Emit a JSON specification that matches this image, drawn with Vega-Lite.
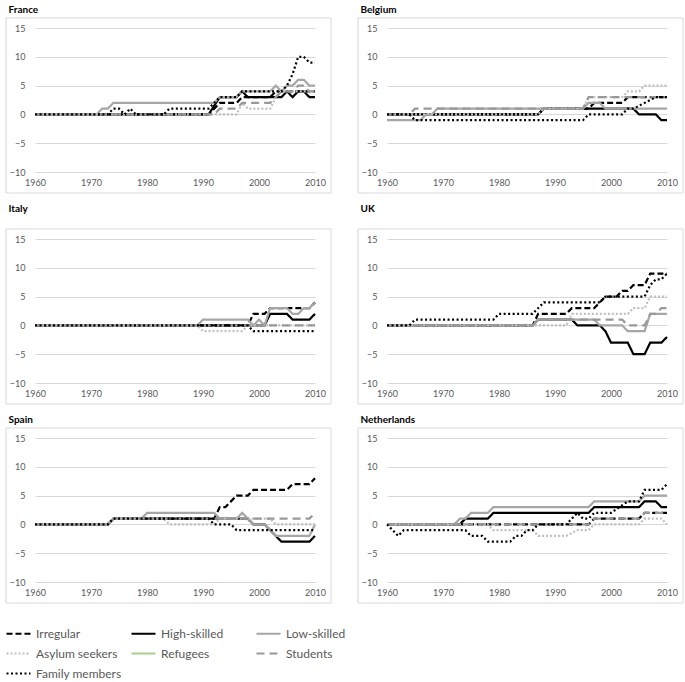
{
"$schema": "https://vega.github.io/schema/vega-lite/v6.json",
"padding": 5,
"background": "white",
"config": {
 "font": "Lato",
 "view": {"stroke": null},
 "axis": {"domain": false, "ticks": false, "labelColor": "#595959", "labelFontSize": 9, "labelFont": "Lato", "gridColor": "#d9d9d9", "gridWidth": 1, "labelOverlap": false},
 "axisX": {"grid": false, "labelPadding": 6, "labelFlush": false},
 "axisY": {"grid": true, "labelPadding": 10},
 "title": {"anchor": "start", "frame": "bounds", "fontSize": 10, "fontWeight": "bold", "font": "Lato", "color": "#000000", "dx": 3},
 "legend": {"orient": "none", "legendX": -30, "legendY": 592, "direction": "horizontal", "columns": 3, "gridAlign": "all", "symbolType": "stroke", "symbolSize": 576, "labelFontSize": 12, "labelColor": "#595959", "labelFont": "Lato", "columnPadding": 5, "rowPadding": -2, "labelOffset": 4}
},
"datasets": {
"fr": [
{"series":"Irregular","year":1960,"value":0},{"series":"Irregular","year":1991,"value":0},{"series":"Irregular","year":1992,"value":1},{"series":"Irregular","year":1993,"value":2},{"series":"Irregular","year":1996,"value":2},{"series":"Irregular","year":1997,"value":3},{"series":"Irregular","year":2002,"value":3},{"series":"Irregular","year":2003,"value":4},{"series":"Irregular","year":2010,"value":4},
{"series":"High-skilled","year":1960,"value":0},{"series":"High-skilled","year":1991,"value":0},{"series":"High-skilled","year":1993,"value":3},{"series":"High-skilled","year":1996,"value":3},{"series":"High-skilled","year":1997,"value":4},{"series":"High-skilled","year":1998,"value":3},{"series":"High-skilled","year":2004,"value":3},{"series":"High-skilled","year":2005,"value":4},{"series":"High-skilled","year":2006,"value":3},{"series":"High-skilled","year":2007,"value":4},{"series":"High-skilled","year":2008,"value":4},{"series":"High-skilled","year":2009,"value":3},{"series":"High-skilled","year":2010,"value":3},
{"series":"Low-skilled","year":1960,"value":0},{"series":"Low-skilled","year":1971,"value":0},{"series":"Low-skilled","year":1972,"value":1},{"series":"Low-skilled","year":1973,"value":1},{"series":"Low-skilled","year":1974,"value":2},{"series":"Low-skilled","year":1992,"value":2},{"series":"Low-skilled","year":1993,"value":3},{"series":"Low-skilled","year":1996,"value":3},{"series":"Low-skilled","year":1997,"value":4},{"series":"Low-skilled","year":2002,"value":4},{"series":"Low-skilled","year":2003,"value":5},{"series":"Low-skilled","year":2004,"value":4},{"series":"Low-skilled","year":2005,"value":5},{"series":"Low-skilled","year":2006,"value":5},{"series":"Low-skilled","year":2007,"value":6},{"series":"Low-skilled","year":2008,"value":6},{"series":"Low-skilled","year":2009,"value":5},{"series":"Low-skilled","year":2010,"value":5},
{"series":"Asylum seekers","year":1960,"value":0},{"series":"Asylum seekers","year":1996,"value":0},{"series":"Asylum seekers","year":1997,"value":2},{"series":"Asylum seekers","year":1998,"value":1},{"series":"Asylum seekers","year":2002,"value":1},{"series":"Asylum seekers","year":2003,"value":3},{"series":"Asylum seekers","year":2004,"value":4},{"series":"Asylum seekers","year":2010,"value":4},
{"series":"Students","year":1960,"value":0},{"series":"Students","year":1992,"value":0},{"series":"Students","year":1993,"value":1},{"series":"Students","year":1996,"value":1},{"series":"Students","year":1997,"value":2},{"series":"Students","year":2002,"value":2},{"series":"Students","year":2003,"value":3},{"series":"Students","year":2004,"value":4},{"series":"Students","year":2006,"value":4},{"series":"Students","year":2007,"value":5},{"series":"Students","year":2008,"value":5},{"series":"Students","year":2009,"value":4},{"series":"Students","year":2010,"value":4},
{"series":"Family members","year":1960,"value":0},{"series":"Family members","year":1973,"value":0},{"series":"Family members","year":1974,"value":1},{"series":"Family members","year":1975,"value":1},{"series":"Family members","year":1976,"value":0},{"series":"Family members","year":1977,"value":1},{"series":"Family members","year":1978,"value":0},{"series":"Family members","year":1983,"value":0},{"series":"Family members","year":1984,"value":1},{"series":"Family members","year":1991,"value":1},{"series":"Family members","year":1993,"value":3},{"series":"Family members","year":1996,"value":3},{"series":"Family members","year":1997,"value":4},{"series":"Family members","year":2004,"value":4},{"series":"Family members","year":2005,"value":5},{"series":"Family members","year":2006,"value":7},{"series":"Family members","year":2007,"value":10},{"series":"Family members","year":2008,"value":10},{"series":"Family members","year":2009,"value":9},{"series":"Family members","year":2010,"value":9}
],
"be": [
{"series":"Irregular","year":1960,"value":0},{"series":"Irregular","year":1987,"value":0},{"series":"Irregular","year":1988,"value":1},{"series":"Irregular","year":1996,"value":1},{"series":"Irregular","year":1997,"value":2},{"series":"Irregular","year":2002,"value":2},{"series":"Irregular","year":2003,"value":3},{"series":"Irregular","year":2010,"value":3},
{"series":"High-skilled","year":1960,"value":0},{"series":"High-skilled","year":1987,"value":0},{"series":"High-skilled","year":1988,"value":1},{"series":"High-skilled","year":2004,"value":1},{"series":"High-skilled","year":2005,"value":0},{"series":"High-skilled","year":2008,"value":0},{"series":"High-skilled","year":2009,"value":-1},{"series":"High-skilled","year":2010,"value":-1},
{"series":"Low-skilled","year":1960,"value":-1},{"series":"Low-skilled","year":1966,"value":-1},{"series":"Low-skilled","year":1967,"value":0},{"series":"Low-skilled","year":1968,"value":0},{"series":"Low-skilled","year":1969,"value":1},{"series":"Low-skilled","year":1995,"value":1},{"series":"Low-skilled","year":1996,"value":2},{"series":"Low-skilled","year":1998,"value":2},{"series":"Low-skilled","year":1999,"value":1},{"series":"Low-skilled","year":2010,"value":1},
{"series":"Asylum seekers","year":1960,"value":0},{"series":"Asylum seekers","year":1987,"value":0},{"series":"Asylum seekers","year":1988,"value":1},{"series":"Asylum seekers","year":1995,"value":1},{"series":"Asylum seekers","year":1996,"value":3},{"series":"Asylum seekers","year":2002,"value":3},{"series":"Asylum seekers","year":2003,"value":4},{"series":"Asylum seekers","year":2005,"value":4},{"series":"Asylum seekers","year":2006,"value":5},{"series":"Asylum seekers","year":2010,"value":5},
{"series":"Students","year":1960,"value":0},{"series":"Students","year":1964,"value":0},{"series":"Students","year":1965,"value":1},{"series":"Students","year":1995,"value":1},{"series":"Students","year":1996,"value":3},{"series":"Students","year":2010,"value":3},
{"series":"Family members","year":1960,"value":0},{"series":"Family members","year":1964,"value":0},{"series":"Family members","year":1965,"value":-1},{"series":"Family members","year":1995,"value":-1},{"series":"Family members","year":1996,"value":0},{"series":"Family members","year":2002,"value":0},{"series":"Family members","year":2003,"value":1},{"series":"Family members","year":2004,"value":1},{"series":"Family members","year":2006,"value":2},{"series":"Family members","year":2008,"value":3},{"series":"Family members","year":2010,"value":3}
],
"it": [
{"series":"Irregular","year":1960,"value":0},{"series":"Irregular","year":1998,"value":0},{"series":"Irregular","year":1999,"value":2},{"series":"Irregular","year":2001,"value":2},{"series":"Irregular","year":2002,"value":3},{"series":"Irregular","year":2009,"value":3},{"series":"Irregular","year":2010,"value":4},
{"series":"High-skilled","year":1960,"value":0},{"series":"High-skilled","year":2001,"value":0},{"series":"High-skilled","year":2002,"value":2},{"series":"High-skilled","year":2005,"value":2},{"series":"High-skilled","year":2006,"value":1},{"series":"High-skilled","year":2009,"value":1},{"series":"High-skilled","year":2010,"value":2},
{"series":"Low-skilled","year":1960,"value":0},{"series":"Low-skilled","year":1989,"value":0},{"series":"Low-skilled","year":1990,"value":1},{"series":"Low-skilled","year":1998,"value":1},{"series":"Low-skilled","year":1999,"value":0},{"series":"Low-skilled","year":2000,"value":1},{"series":"Low-skilled","year":2001,"value":0},{"series":"Low-skilled","year":2002,"value":3},{"series":"Low-skilled","year":2005,"value":3},{"series":"Low-skilled","year":2006,"value":2},{"series":"Low-skilled","year":2007,"value":2},{"series":"Low-skilled","year":2008,"value":3},{"series":"Low-skilled","year":2009,"value":3},{"series":"Low-skilled","year":2010,"value":4},
{"series":"Asylum seekers","year":1960,"value":0},{"series":"Asylum seekers","year":1989,"value":0},{"series":"Asylum seekers","year":1990,"value":-1},{"series":"Asylum seekers","year":1997,"value":-1},{"series":"Asylum seekers","year":1998,"value":0},{"series":"Asylum seekers","year":2010,"value":0},
{"series":"Students","year":1960,"value":0},{"series":"Students","year":2010,"value":0},
{"series":"Family members","year":1960,"value":0},{"series":"Family members","year":1998,"value":0},{"series":"Family members","year":1999,"value":-1},{"series":"Family members","year":2010,"value":-1}
],
"uk": [
{"series":"Irregular","year":1960,"value":0},{"series":"Irregular","year":1986,"value":0},{"series":"Irregular","year":1987,"value":2},{"series":"Irregular","year":1992,"value":2},{"series":"Irregular","year":1993,"value":3},{"series":"Irregular","year":1997,"value":3},{"series":"Irregular","year":1999,"value":5},{"series":"Irregular","year":2001,"value":5},{"series":"Irregular","year":2002,"value":6},{"series":"Irregular","year":2003,"value":6},{"series":"Irregular","year":2004,"value":7},{"series":"Irregular","year":2006,"value":7},{"series":"Irregular","year":2007,"value":9},{"series":"Irregular","year":2010,"value":9},
{"series":"High-skilled","year":1960,"value":0},{"series":"High-skilled","year":1986,"value":0},{"series":"High-skilled","year":1987,"value":1},{"series":"High-skilled","year":1993,"value":1},{"series":"High-skilled","year":1994,"value":0},{"series":"High-skilled","year":1998,"value":0},{"series":"High-skilled","year":1999,"value":-1},{"series":"High-skilled","year":2000,"value":-3},{"series":"High-skilled","year":2003,"value":-3},{"series":"High-skilled","year":2004,"value":-5},{"series":"High-skilled","year":2006,"value":-5},{"series":"High-skilled","year":2007,"value":-3},{"series":"High-skilled","year":2009,"value":-3},{"series":"High-skilled","year":2010,"value":-2},
{"series":"Low-skilled","year":1960,"value":0},{"series":"Low-skilled","year":1986,"value":0},{"series":"Low-skilled","year":1987,"value":1},{"series":"Low-skilled","year":1997,"value":1},{"series":"Low-skilled","year":1998,"value":0},{"series":"Low-skilled","year":2002,"value":0},{"series":"Low-skilled","year":2003,"value":-1},{"series":"Low-skilled","year":2006,"value":-1},{"series":"Low-skilled","year":2007,"value":2},{"series":"Low-skilled","year":2010,"value":2},
{"series":"Asylum seekers","year":1960,"value":0},{"series":"Asylum seekers","year":1992,"value":0},{"series":"Asylum seekers","year":1993,"value":2},{"series":"Asylum seekers","year":2003,"value":2},{"series":"Asylum seekers","year":2004,"value":3},{"series":"Asylum seekers","year":2006,"value":3},{"series":"Asylum seekers","year":2007,"value":5},{"series":"Asylum seekers","year":2010,"value":5},
{"series":"Students","year":1960,"value":0},{"series":"Students","year":1986,"value":0},{"series":"Students","year":1987,"value":1},{"series":"Students","year":2002,"value":1},{"series":"Students","year":2003,"value":0},{"series":"Students","year":2006,"value":0},{"series":"Students","year":2007,"value":2},{"series":"Students","year":2008,"value":2},{"series":"Students","year":2009,"value":3},{"series":"Students","year":2010,"value":3},
{"series":"Family members","year":1960,"value":0},{"series":"Family members","year":1964,"value":0},{"series":"Family members","year":1965,"value":1},{"series":"Family members","year":1979,"value":1},{"series":"Family members","year":1980,"value":2},{"series":"Family members","year":1986,"value":2},{"series":"Family members","year":1988,"value":4},{"series":"Family members","year":1998,"value":4},{"series":"Family members","year":1999,"value":5},{"series":"Family members","year":2006,"value":5},{"series":"Family members","year":2007,"value":7},{"series":"Family members","year":2008,"value":8},{"series":"Family members","year":2009,"value":8},{"series":"Family members","year":2010,"value":9}
],
"es": [
{"series":"Irregular","year":1960,"value":0},{"series":"Irregular","year":1973,"value":0},{"series":"Irregular","year":1974,"value":1},{"series":"Irregular","year":1992,"value":1},{"series":"Irregular","year":1993,"value":3},{"series":"Irregular","year":1994,"value":3},{"series":"Irregular","year":1996,"value":5},{"series":"Irregular","year":1998,"value":5},{"series":"Irregular","year":1999,"value":6},{"series":"Irregular","year":2005,"value":6},{"series":"Irregular","year":2006,"value":7},{"series":"Irregular","year":2009,"value":7},{"series":"Irregular","year":2010,"value":8},
{"series":"High-skilled","year":1960,"value":0},{"series":"High-skilled","year":1973,"value":0},{"series":"High-skilled","year":1974,"value":1},{"series":"High-skilled","year":1998,"value":1},{"series":"High-skilled","year":1999,"value":0},{"series":"High-skilled","year":2001,"value":0},{"series":"High-skilled","year":2004,"value":-3},{"series":"High-skilled","year":2009,"value":-3},{"series":"High-skilled","year":2010,"value":-2},
{"series":"Low-skilled","year":1960,"value":0},{"series":"Low-skilled","year":1973,"value":0},{"series":"Low-skilled","year":1974,"value":1},{"series":"Low-skilled","year":1979,"value":1},{"series":"Low-skilled","year":1980,"value":2},{"series":"Low-skilled","year":1992,"value":2},{"series":"Low-skilled","year":1993,"value":1},{"series":"Low-skilled","year":1996,"value":1},{"series":"Low-skilled","year":1997,"value":2},{"series":"Low-skilled","year":1998,"value":1},{"series":"Low-skilled","year":1999,"value":0},{"series":"Low-skilled","year":2001,"value":0},{"series":"Low-skilled","year":2003,"value":-2},{"series":"Low-skilled","year":2009,"value":-2},{"series":"Low-skilled","year":2010,"value":0},
{"series":"Asylum seekers","year":1960,"value":0},{"series":"Asylum seekers","year":1973,"value":0},{"series":"Asylum seekers","year":1974,"value":1},{"series":"Asylum seekers","year":1983,"value":1},{"series":"Asylum seekers","year":1984,"value":0},{"series":"Asylum seekers","year":1992,"value":0},{"series":"Asylum seekers","year":1993,"value":1},{"series":"Asylum seekers","year":2002,"value":1},{"series":"Asylum seekers","year":2003,"value":0},{"series":"Asylum seekers","year":2010,"value":0},
{"series":"Students","year":1960,"value":0},{"series":"Students","year":1973,"value":0},{"series":"Students","year":1974,"value":1},{"series":"Students","year":2009,"value":1},{"series":"Students","year":2010,"value":2},
{"series":"Family members","year":1960,"value":0},{"series":"Family members","year":1973,"value":0},{"series":"Family members","year":1974,"value":1},{"series":"Family members","year":1991,"value":1},{"series":"Family members","year":1992,"value":0},{"series":"Family members","year":1995,"value":0},{"series":"Family members","year":1996,"value":-1},{"series":"Family members","year":2010,"value":-1}
],
"nl": [
{"series":"Irregular","year":1960,"value":0},{"series":"Irregular","year":1996,"value":0},{"series":"Irregular","year":1997,"value":1},{"series":"Irregular","year":2005,"value":1},{"series":"Irregular","year":2006,"value":2},{"series":"Irregular","year":2010,"value":2},
{"series":"High-skilled","year":1960,"value":0},{"series":"High-skilled","year":1973,"value":0},{"series":"High-skilled","year":1974,"value":1},{"series":"High-skilled","year":1978,"value":1},{"series":"High-skilled","year":1979,"value":2},{"series":"High-skilled","year":1996,"value":2},{"series":"High-skilled","year":1997,"value":3},{"series":"High-skilled","year":2005,"value":3},{"series":"High-skilled","year":2006,"value":4},{"series":"High-skilled","year":2008,"value":4},{"series":"High-skilled","year":2009,"value":3},{"series":"High-skilled","year":2010,"value":3},
{"series":"Low-skilled","year":1960,"value":0},{"series":"Low-skilled","year":1972,"value":0},{"series":"Low-skilled","year":1973,"value":1},{"series":"Low-skilled","year":1974,"value":1},{"series":"Low-skilled","year":1975,"value":2},{"series":"Low-skilled","year":1978,"value":2},{"series":"Low-skilled","year":1979,"value":3},{"series":"Low-skilled","year":1996,"value":3},{"series":"Low-skilled","year":1997,"value":4},{"series":"Low-skilled","year":2005,"value":4},{"series":"Low-skilled","year":2006,"value":5},{"series":"Low-skilled","year":2010,"value":5},
{"series":"Asylum seekers","year":1960,"value":0},{"series":"Asylum seekers","year":1978,"value":0},{"series":"Asylum seekers","year":1979,"value":-1},{"series":"Asylum seekers","year":1986,"value":-1},{"series":"Asylum seekers","year":1987,"value":-2},{"series":"Asylum seekers","year":1992,"value":-2},{"series":"Asylum seekers","year":1994,"value":-1},{"series":"Asylum seekers","year":1996,"value":-1},{"series":"Asylum seekers","year":1997,"value":0},{"series":"Asylum seekers","year":2005,"value":0},{"series":"Asylum seekers","year":2006,"value":1},{"series":"Asylum seekers","year":2009,"value":1},{"series":"Asylum seekers","year":2010,"value":0},
{"series":"Students","year":1960,"value":0},{"series":"Students","year":1996,"value":0},{"series":"Students","year":1997,"value":1},{"series":"Students","year":2005,"value":1},{"series":"Students","year":2006,"value":2},{"series":"Students","year":2010,"value":2},
{"series":"Family members","year":1960,"value":0},{"series":"Family members","year":1962,"value":-2},{"series":"Family members","year":1963,"value":-1},{"series":"Family members","year":1974,"value":-1},{"series":"Family members","year":1975,"value":-2},{"series":"Family members","year":1977,"value":-2},{"series":"Family members","year":1978,"value":-3},{"series":"Family members","year":1982,"value":-3},{"series":"Family members","year":1983,"value":-2},{"series":"Family members","year":1984,"value":-2},{"series":"Family members","year":1985,"value":-1},{"series":"Family members","year":1986,"value":-1},{"series":"Family members","year":1987,"value":0},{"series":"Family members","year":1992,"value":0},{"series":"Family members","year":1994,"value":2},{"series":"Family members","year":1995,"value":1},{"series":"Family members","year":1996,"value":1},{"series":"Family members","year":1997,"value":2},{"series":"Family members","year":2000,"value":2},{"series":"Family members","year":2003,"value":4},{"series":"Family members","year":2005,"value":4},{"series":"Family members","year":2006,"value":6},{"series":"Family members","year":2009,"value":6},{"series":"Family members","year":2010,"value":7}
]
},
"columns": 2,
"spacing": {"row": 10, "column": 25},
"concat": [
{"title": {"text": "France", "offset": 2}, "width": 280, "height": 144, "layer": [
 {"data": {"values": [{}]}, "mark": {"type": "rect", "filled": false, "color": "#d9d9d9", "strokeWidth": 1}, "encoding": {"x": {"datum": 1954.82, "type": "quantitative", "scale": {"domain": [1960, 2010], "nice": false}, "axis": {"values": [1960,1970,1980,1990,2000,2010], "format": "d", "title": null}}, "x2": {"datum": 2012.86}, "y": {"datum": -13.65, "type": "quantitative", "scale": {"domain": [-10, 15], "nice": false}, "axis": {"values": [-10,-5,0,5,10,15], "title": null, "grid": true}}, "y2": {"datum": 16.74}}},
 {"data": {"name": "fr"}, "mark": {"type": "line", "strokeCap": "butt"}, "encoding": {
  "x": {"field": "year", "type": "quantitative", "scale": {"domain": [1960, 2010], "nice": false}, "axis": {"values": [1960,1970,1980,1990,2000,2010], "format": "d", "title": null}},
  "y": {"field": "value", "type": "quantitative", "scale": {"domain": [-10, 15], "nice": false}, "axis": {"values": [-10,-5,0,5,10,15], "title": null, "grid": true}},
  "color": {"field": "series", "type": "nominal", "title": null, "scale": {"domain": ["Irregular","High-skilled","Low-skilled","Asylum seekers","Refugees","Students","Family members"], "range": ["#000000","#000000","#a6a6a6","#bfbfbf","#a9d18e","#999999","#000000"]}},
  "strokeDash": {"field": "series", "type": "nominal", "title": null, "scale": {"domain": ["Irregular","High-skilled","Low-skilled","Asylum seekers","Refugees","Students","Family members"], "range": [[6,3],[1,0],[1,0],[2,2],[1,0],[8,5],[2,2.5]]}},
  "strokeWidth": {"field": "series", "type": "ordinal", "title": null, "scale": {"domain": ["Irregular","High-skilled","Low-skilled","Asylum seekers","Refugees","Students","Family members"], "range": [2.2,2.2,2.2,1.5,1.8,2,1.8]}}
 }}
]},
{"title": {"text": "Belgium", "offset": 2}, "width": 280, "height": 144, "layer": [
 {"data": {"values": [{}]}, "mark": {"type": "rect", "filled": false, "color": "#d9d9d9", "strokeWidth": 1}, "encoding": {"x": {"datum": 1954.82, "type": "quantitative", "scale": {"domain": [1960, 2010], "nice": false}, "axis": {"values": [1960,1970,1980,1990,2000,2010], "format": "d", "title": null}}, "x2": {"datum": 2012.86}, "y": {"datum": -13.65, "type": "quantitative", "scale": {"domain": [-10, 15], "nice": false}, "axis": {"values": [-10,-5,0,5,10,15], "title": null, "grid": true}}, "y2": {"datum": 16.74}}},
 {"data": {"name": "be"}, "mark": {"type": "line", "strokeCap": "butt"}, "encoding": {
  "x": {"field": "year", "type": "quantitative", "scale": {"domain": [1960, 2010], "nice": false}, "axis": {"values": [1960,1970,1980,1990,2000,2010], "format": "d", "title": null}},
  "y": {"field": "value", "type": "quantitative", "scale": {"domain": [-10, 15], "nice": false}, "axis": {"values": [-10,-5,0,5,10,15], "title": null, "grid": true}},
  "color": {"field": "series", "type": "nominal", "title": null, "scale": {"domain": ["Irregular","High-skilled","Low-skilled","Asylum seekers","Refugees","Students","Family members"], "range": ["#000000","#000000","#a6a6a6","#bfbfbf","#a9d18e","#999999","#000000"]}},
  "strokeDash": {"field": "series", "type": "nominal", "title": null, "scale": {"domain": ["Irregular","High-skilled","Low-skilled","Asylum seekers","Refugees","Students","Family members"], "range": [[6,3],[1,0],[1,0],[2,2],[1,0],[8,5],[2,2.5]]}},
  "strokeWidth": {"field": "series", "type": "ordinal", "title": null, "scale": {"domain": ["Irregular","High-skilled","Low-skilled","Asylum seekers","Refugees","Students","Family members"], "range": [2.2,2.2,2.2,1.5,1.8,2,1.8]}}
 }}
]},
{"title": {"text": "Italy", "offset": 14}, "width": 280, "height": 144, "layer": [
 {"data": {"values": [{}]}, "mark": {"type": "rect", "filled": false, "color": "#d9d9d9", "strokeWidth": 1}, "encoding": {"x": {"datum": 1954.82, "type": "quantitative", "scale": {"domain": [1960, 2010], "nice": false}, "axis": {"values": [1960,1970,1980,1990,2000,2010], "format": "d", "title": null}}, "x2": {"datum": 2012.86}, "y": {"datum": -13.65, "type": "quantitative", "scale": {"domain": [-10, 15], "nice": false}, "axis": {"values": [-10,-5,0,5,10,15], "title": null, "grid": true}}, "y2": {"datum": 16.74}}},
 {"data": {"name": "it"}, "mark": {"type": "line", "strokeCap": "butt"}, "encoding": {
  "x": {"field": "year", "type": "quantitative", "scale": {"domain": [1960, 2010], "nice": false}, "axis": {"values": [1960,1970,1980,1990,2000,2010], "format": "d", "title": null}},
  "y": {"field": "value", "type": "quantitative", "scale": {"domain": [-10, 15], "nice": false}, "axis": {"values": [-10,-5,0,5,10,15], "title": null, "grid": true}},
  "color": {"field": "series", "type": "nominal", "title": null, "scale": {"domain": ["Irregular","High-skilled","Low-skilled","Asylum seekers","Refugees","Students","Family members"], "range": ["#000000","#000000","#a6a6a6","#bfbfbf","#a9d18e","#999999","#000000"]}},
  "strokeDash": {"field": "series", "type": "nominal", "title": null, "scale": {"domain": ["Irregular","High-skilled","Low-skilled","Asylum seekers","Refugees","Students","Family members"], "range": [[6,3],[1,0],[1,0],[2,2],[1,0],[8,5],[2,2.5]]}},
  "strokeWidth": {"field": "series", "type": "ordinal", "title": null, "scale": {"domain": ["Irregular","High-skilled","Low-skilled","Asylum seekers","Refugees","Students","Family members"], "range": [2.2,2.2,2.2,1.5,1.8,2,1.8]}}
 }}
]},
{"title": {"text": "UK", "offset": 14}, "width": 280, "height": 144, "layer": [
 {"data": {"values": [{}]}, "mark": {"type": "rect", "filled": false, "color": "#d9d9d9", "strokeWidth": 1}, "encoding": {"x": {"datum": 1954.82, "type": "quantitative", "scale": {"domain": [1960, 2010], "nice": false}, "axis": {"values": [1960,1970,1980,1990,2000,2010], "format": "d", "title": null}}, "x2": {"datum": 2012.86}, "y": {"datum": -13.65, "type": "quantitative", "scale": {"domain": [-10, 15], "nice": false}, "axis": {"values": [-10,-5,0,5,10,15], "title": null, "grid": true}}, "y2": {"datum": 16.74}}},
 {"data": {"name": "uk"}, "mark": {"type": "line", "strokeCap": "butt"}, "encoding": {
  "x": {"field": "year", "type": "quantitative", "scale": {"domain": [1960, 2010], "nice": false}, "axis": {"values": [1960,1970,1980,1990,2000,2010], "format": "d", "title": null}},
  "y": {"field": "value", "type": "quantitative", "scale": {"domain": [-10, 15], "nice": false}, "axis": {"values": [-10,-5,0,5,10,15], "title": null, "grid": true}},
  "color": {"field": "series", "type": "nominal", "title": null, "scale": {"domain": ["Irregular","High-skilled","Low-skilled","Asylum seekers","Refugees","Students","Family members"], "range": ["#000000","#000000","#a6a6a6","#bfbfbf","#a9d18e","#999999","#000000"]}},
  "strokeDash": {"field": "series", "type": "nominal", "title": null, "scale": {"domain": ["Irregular","High-skilled","Low-skilled","Asylum seekers","Refugees","Students","Family members"], "range": [[6,3],[1,0],[1,0],[2,2],[1,0],[8,5],[2,2.5]]}},
  "strokeWidth": {"field": "series", "type": "ordinal", "title": null, "scale": {"domain": ["Irregular","High-skilled","Low-skilled","Asylum seekers","Refugees","Students","Family members"], "range": [2.2,2.2,2.2,1.5,1.8,2,1.8]}}
 }}
]},
{"title": {"text": "Spain", "offset": 2}, "width": 280, "height": 144, "layer": [
 {"data": {"values": [{}]}, "mark": {"type": "rect", "filled": false, "color": "#d9d9d9", "strokeWidth": 1}, "encoding": {"x": {"datum": 1954.82, "type": "quantitative", "scale": {"domain": [1960, 2010], "nice": false}, "axis": {"values": [1960,1970,1980,1990,2000,2010], "format": "d", "title": null}}, "x2": {"datum": 2012.86}, "y": {"datum": -13.65, "type": "quantitative", "scale": {"domain": [-10, 15], "nice": false}, "axis": {"values": [-10,-5,0,5,10,15], "title": null, "grid": true}}, "y2": {"datum": 16.74}}},
 {"data": {"name": "es"}, "mark": {"type": "line", "strokeCap": "butt"}, "encoding": {
  "x": {"field": "year", "type": "quantitative", "scale": {"domain": [1960, 2010], "nice": false}, "axis": {"values": [1960,1970,1980,1990,2000,2010], "format": "d", "title": null}},
  "y": {"field": "value", "type": "quantitative", "scale": {"domain": [-10, 15], "nice": false}, "axis": {"values": [-10,-5,0,5,10,15], "title": null, "grid": true}},
  "color": {"field": "series", "type": "nominal", "title": null, "scale": {"domain": ["Irregular","High-skilled","Low-skilled","Asylum seekers","Refugees","Students","Family members"], "range": ["#000000","#000000","#a6a6a6","#bfbfbf","#a9d18e","#999999","#000000"]}},
  "strokeDash": {"field": "series", "type": "nominal", "title": null, "scale": {"domain": ["Irregular","High-skilled","Low-skilled","Asylum seekers","Refugees","Students","Family members"], "range": [[6,3],[1,0],[1,0],[2,2],[1,0],[8,5],[2,2.5]]}},
  "strokeWidth": {"field": "series", "type": "ordinal", "title": null, "scale": {"domain": ["Irregular","High-skilled","Low-skilled","Asylum seekers","Refugees","Students","Family members"], "range": [2.2,2.2,2.2,1.5,1.8,2,1.8]}}
 }}
]},
{"title": {"text": "Netherlands", "offset": 2}, "width": 280, "height": 144, "layer": [
 {"data": {"values": [{}]}, "mark": {"type": "rect", "filled": false, "color": "#d9d9d9", "strokeWidth": 1}, "encoding": {"x": {"datum": 1954.82, "type": "quantitative", "scale": {"domain": [1960, 2010], "nice": false}, "axis": {"values": [1960,1970,1980,1990,2000,2010], "format": "d", "title": null}}, "x2": {"datum": 2012.86}, "y": {"datum": -13.65, "type": "quantitative", "scale": {"domain": [-10, 15], "nice": false}, "axis": {"values": [-10,-5,0,5,10,15], "title": null, "grid": true}}, "y2": {"datum": 16.74}}},
 {"data": {"name": "nl"}, "mark": {"type": "line", "strokeCap": "butt"}, "encoding": {
  "x": {"field": "year", "type": "quantitative", "scale": {"domain": [1960, 2010], "nice": false}, "axis": {"values": [1960,1970,1980,1990,2000,2010], "format": "d", "title": null}},
  "y": {"field": "value", "type": "quantitative", "scale": {"domain": [-10, 15], "nice": false}, "axis": {"values": [-10,-5,0,5,10,15], "title": null, "grid": true}},
  "color": {"field": "series", "type": "nominal", "title": null, "scale": {"domain": ["Irregular","High-skilled","Low-skilled","Asylum seekers","Refugees","Students","Family members"], "range": ["#000000","#000000","#a6a6a6","#bfbfbf","#a9d18e","#999999","#000000"]}},
  "strokeDash": {"field": "series", "type": "nominal", "title": null, "scale": {"domain": ["Irregular","High-skilled","Low-skilled","Asylum seekers","Refugees","Students","Family members"], "range": [[6,3],[1,0],[1,0],[2,2],[1,0],[8,5],[2,2.5]]}},
  "strokeWidth": {"field": "series", "type": "ordinal", "title": null, "scale": {"domain": ["Irregular","High-skilled","Low-skilled","Asylum seekers","Refugees","Students","Family members"], "range": [2.2,2.2,2.2,1.5,1.8,2,1.8]}}
 }}
]}
]
}
